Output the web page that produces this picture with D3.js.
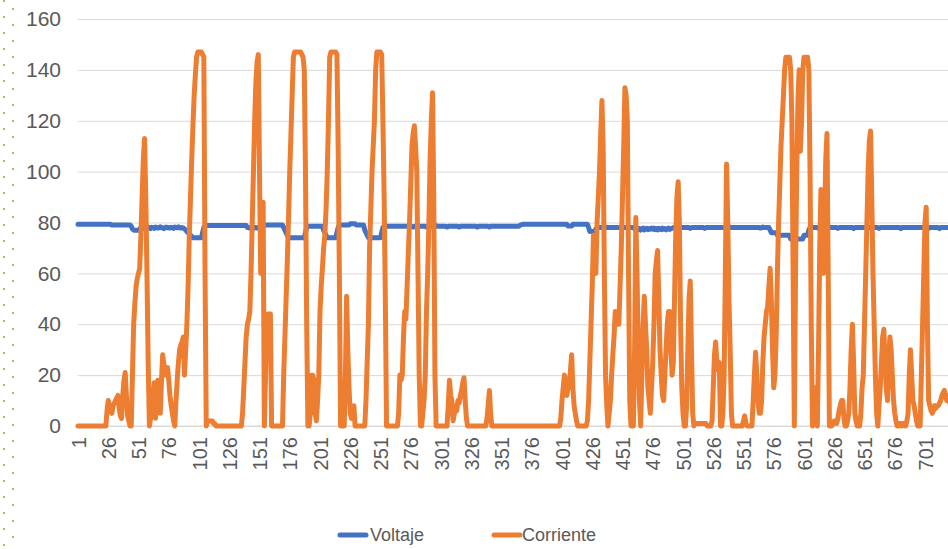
<!DOCTYPE html>
<html>
<head>
<meta charset="utf-8">
<script src="https://cdn.jsdelivr.net/npm/d3@7"></script>
<style>
  body { margin: 0; background: #fff; }
  svg { display: block; font-family: "Liberation Sans Narrow", "Arial Narrow", "Liberation Sans", sans-serif; }
</style>
</head>
<body>
<svg id="chart"></svg>
<script>
// tick labels
const yTicks = [0, 20, 40, 60, 80, 100, 120, 140, 160];
const xTickLabels = ["1", "26", "51", "76", "101", "126", "151", "176", "201", "226", "251", "276", "301",
  "326", "351", "376", "401", "426", "451", "476", "501", "526", "551", "576", "601", "626", "651", "676", "701"];
const seriesNames = ["Voltaje", "Corriente"];

// Voltaje, one value per category (1..722)
const voltaje = [
  79.3,79.3,79.3,79.3,79.3,79.3,79.3,79.3,79.3,79.3,79.3,79.3,79.3,79.3,79.3,79.3,79.3,79.3,79.3,79.3,79.3,79.3,79.3,79.3,79.3,
  79.3,79.3,79.3,79,79,79,79,79,79,79,79,79,79,79,79,79,79,79,79,78.5,77.5,77,77,77,77,
  77,77.5,78,77.8,78.2,77.6,78,78.3,77.9,78,77.6,78.1,78,77.7,78.2,78,77.8,78,78.3,77.9,78,77.6,78,78.2,77.9,
  78,77.8,78.1,78,77.7,78.2,78,77.9,78.3,78,77.8,78,77.9,77.5,77,76.5,76,75.5,75,74.5,74,74,74,74,74,
  74,74,74,76,78,78.8,78.8,78.8,78.8,78.8,78.8,78.8,78.8,78.8,78.8,78.8,78.8,78.8,78.8,78.8,78.8,78.8,78.8,78.8,78.8,
  78.8,78.8,78.8,78.8,78.8,78.8,78.8,78.8,78.8,78.8,78.8,78.8,78.8,78.8,78.8,78,78,77.8,78,77.6,77.7,78,78,77.8,78,
  78,78.2,78,78.5,78.8,79,79,79,79,79,79,79,79,79,79,79,79,79,79,79,78,77,76,75,74,
  74,74,74,74,74,74,74,74,74,74,74,74,74,76,78,78.5,78.5,78.5,78.5,78.5,78.5,78.5,78.5,78.5,78.5,
  78.5,78.5,78.5,77,76,75,74,74,74,74,74,74,74,74,76,78,79,79,79,79,79,79,79,79,79,
  79.5,79.5,79.5,79.5,79.5,79,79,79,79,79,79,79,77,76,75,74,74,74,74,74,74,74,74,74,74,
  74,76,78,78.5,78.5,78.5,78.5,78.5,78.5,78.5,78.5,78.5,78.5,78.5,78.5,78.5,78.5,78.5,78.5,78.5,78.5,78.5,78.5,78.5,78.5,
  78.5,78.5,78.2,78.5,78.5,78.5,78.8,78.5,78.5,78.5,78.5,78.5,78.5,78.2,78.5,78.5,78.5,78.5,78.5,78.5,78.5,78.8,78.5,78.5,78.5,
  78.5,78.5,78.5,78.5,78.5,78.2,78.5,78.5,78.5,78.5,78.5,78.5,78.5,78.5,78.5,78.2,78.5,78.5,78.5,78.5,78.5,78.5,78.5,78.5,78.5,
  78.5,78.5,78.5,78.5,78.5,78.2,78.5,78.5,78.5,78.5,78.5,78.5,78.5,78.5,78.5,78.2,78.5,78.5,78.5,78.5,78.5,78.5,78.5,78.5,78.5,
  78.5,78.5,78.5,78.5,78.5,78.5,78.5,78.5,78.5,78.5,78.5,78.5,78.5,78.5,78.5,78.8,79,79.2,79.3,79.3,79.3,79.3,79.3,79.3,79.3,
  79.3,79.3,79.3,79.3,79.3,79.3,79.3,79.3,79.3,79.3,79.3,79.3,79.3,79.3,79.3,79.3,79.3,79.3,79.3,79.3,79.3,79.3,79.3,79.3,79.3,
  79.3,79.3,79.3,79.3,79.3,78.6,78.6,78.6,78.6,79.3,79.3,79.3,79.3,79.3,79.3,79.3,79.3,79.3,79.3,79.3,79.3,79.3,78,76.5,76.5,
  76.5,76.5,76.5,77.5,78,78,78,78,78,78,78,78,78,78,78,78,78,78,78,78,78,78,78,78,78,
  78,78,78,78,78,78,78,78,78,78,77.5,77,77.8,77.2,77.6,77,77.5,77.8,77.1,77.5,77.7,77.2,77.6,77.4,77.8,
  77.4,77.8,77.2,77.6,77.1,77.7,77.5,77.2,77.8,77.4,77.6,77.1,77.5,77.8,77.3,77.6,77.7,78,78,78,78,78,78,78,78,
  78,78,78,78,78,78,77.7,78,78,78,78,78,78,78,78,78,78,78,77.7,78,78,78,78,78,78,
  78,78,78,78,78,78,78,78,78,78,78,78.2,78.3,78.3,78.2,78,78,78,78,78,78,78,78,78,78,
  78,78,78,78,78,78,78,78,78,78,78,78,78,78,77.8,78,78.2,78,78,78,78,78,77,76,76,
  76,76,76,75,75,75,75,75,75,75,75,75,75,75,73.5,73.5,73.5,73.5,73.5,73.5,73.5,73.5,73.5,73.5,73.5,
  75,75,75,75,77,78,78,78,78,78,78,78,77.7,78,78,78,78,78,78,78,78,78.2,78,78,78,
  78,78,78,77.7,78,78,78,78,78,78,78,78,78,78,78,78,77.6,78,78,78,78,78,78,78,78,
  78,78,77.6,78,78,78,78,78,78,78,78,78,77.7,78,78,78,78,78,78,78,78,78,78,78,78,
  78,78,78,78,78,77.6,78,78,78,78,78,78,78,78,78,78,78,78,78,78,78,78,78,78,78,
  78,78,78,77.7,78,78,78,78,78,78,78,78,77.6,78,78,78,78,78,78,78,78,78
];

// Corriente, one value per category (1..722)
const corriente = [
  0,0,0,0,0,0,0,0,0,0,0,0,0,0,0,0,0,0,0,0,0,0,0,0,6,
  10,8,6,5,8,9,10,11,12,7,4,3,12,18,21,12,4,2,0,0,20,40,48,55,58,
  60,62,75,90,105,113,90,60,25,0,3,8,12,17,3,10,18,10,5,18,28,24,20,22,23,
  18,12,8,5,2,0,10,18,25,30,32,33,35,20,30,40,55,75,90,105,118,130,138,145,147,
  147,147,147,146,145,60,0,2,2,2,2,2,1,1,0,0,0,0,0,0,0,0,0,0,0,
  0,0,0,0,0,0,0,0,0,0,0,5,15,25,35,40,42,45,60,80,100,120,135,143,146,
  100,60,75,88,0,20,40,44,44,44,0,0,0,0,0,0,0,0,0,0,20,35,50,65,82,
  100,115,130,145,147,147,147,147,147,147,146,145,140,100,40,0,0,5,20,20,18,5,2,10,20,
  45,55,62,70,75,85,100,120,145,147,147,147,147,147,146,110,60,0,0,0,0,20,51,30,15,
  5,3,5,8,0,0,0,0,0,0,0,0,0,10,25,40,70,85,100,110,120,140,147,147,147,
  147,146,120,90,50,0,0,0,0,0,0,0,0,0,0,5,20,18,20,35,45,42,55,68,80,
  95,110,115,118,110,100,60,20,0,0,5,10,20,45,60,80,105,120,131,90,20,0,0,0,0,
  0,0,0,0,0,0,8,18,12,10,2,5,8,6,10,9,12,14,17,19,10,3,0,0,0,
  0,0,0,0,0,0,0,0,0,0,0,0,0,3,8,14,5,0,0,0,0,0,0,0,0,
  0,0,0,0,0,0,0,0,0,0,0,0,0,0,0,0,0,0,0,0,0,0,0,0,0,
  0,0,0,0,0,0,0,0,0,0,0,0,0,0,0,0,0,0,0,0,0,0,0,0,3,
  10,15,20,18,12,15,15,22,28,15,8,5,2,0,0,0,0,0,0,0,0,2,10,25,40,
  55,75,60,60,80,90,100,115,128,110,60,20,8,0,5,10,20,28,35,45,42,40,40,55,70,
  90,110,133,130,120,60,10,0,0,0,30,82,60,30,10,0,20,40,51,40,30,15,10,5,15,
  25,40,60,65,69,50,30,20,12,10,20,30,40,45,45,30,20,25,50,75,90,96,80,40,15,
  5,0,0,8,30,50,57,30,5,0,1,1,1,1,1,1,1,1,1,1,0,0,0,0,2,
  15,28,33,25,22,25,0,0,5,20,60,103,80,50,30,5,0,0,0,0,0,0,0,0,0,
  2,4,1,0,0,0,0,0,10,20,29,20,10,5,5,10,25,35,40,45,47,55,62,50,30,
  15,20,35,60,80,95,110,120,130,140,145,145,145,145,140,120,60,0,60,100,128,140,108,120,140,
  145,145,145,145,140,100,40,0,5,15,5,0,30,70,93,80,60,80,105,115,60,0,0,0,1,
  2,2,1,3,6,8,10,10,3,0,0,2,5,15,30,40,25,5,2,0,0,0,5,15,20,
  40,60,80,100,112,116,90,60,40,20,5,0,8,15,25,35,38,25,15,10,25,35,30,20,10,
  5,2,0,0,1,1,0,1,1,0,2,5,20,30,20,10,8,5,2,0,0,0,20,40,60,
  80,86,40,10,8,6,5,6,8,7,8,8,9,10,12,13,14,12,10,12,10,8
];

const width = 948, height = 549;
const plotLeft = 78, plotRight = 948, plotTop = 19, plotBottom = 426;
const step = 1.21; // px per category
const colors = { Voltaje: "#4472C4", Corriente: "#ED7D31" };

const svg = d3.select("#chart").attr("width", width).attr("height", height);
svg.append("rect").attr("width", width).attr("height", height).attr("fill", "#fff");

// dotted green edge at the left
[[4, 0], [13, 8]].forEach(([dx, off]) => {
  svg.append("line")
    .attr("x1", dx).attr("x2", dx).attr("y1", 0).attr("y2", height)
    .attr("stroke", "#9BCB5A").attr("stroke-width", 2)
    .attr("stroke-dasharray", "2,14").attr("stroke-dashoffset", -off);
});

const N = corriente.length;
const x = d3.scaleLinear().domain([1, N]).range([plotLeft, plotLeft + (N - 1) * step]);
const y = d3.scaleLinear().domain([0, 160]).range([plotBottom, plotTop]);

// gridlines
svg.append("g")
  .attr("transform", "translate(" + plotLeft + ",0)")
  .call(d3.axisLeft(y).tickValues(yTicks).tickSize(-(plotRight - plotLeft)).tickFormat(""))
  .call(g => g.select(".domain").remove())
  .selectAll("line").attr("stroke", "#d9d9d9").attr("stroke-width", 1);

// y labels
svg.append("g")
  .attr("transform", "translate(61,0)")
  .call(d3.axisLeft(y).tickValues(yTicks).tickSize(0).tickPadding(0))
  .call(g => g.select(".domain").remove())
  .selectAll("text")
  .attr("fill", "#595959").style("font-size", "21px").style("font-family", "inherit");

// x axis
const xAxis = svg.append("g")
  .attr("transform", "translate(0," + plotBottom + ")")
  .call(d3.axisBottom(x).tickValues(xTickLabels.map(Number)).tickSize(0).tickFormat(d3.format("d")));
xAxis.select(".domain").attr("stroke", "#d9d9d9").attr("d", "M" + plotLeft + ",0H" + plotRight);
xAxis.selectAll("text")
  .attr("fill", "#595959").style("font-size", "20px").style("font-family", "inherit")
  .attr("transform", "rotate(-90)")
  .attr("x", -11).attr("y", 0).attr("dy", "0.35em")
  .style("text-anchor", "end");

// lines
const line = d3.line().x((d, i) => x(i + 1)).y(d => y(d));
const plot = svg.append("g");
[["Voltaje", voltaje], ["Corriente", corriente]].forEach(([name, vals]) => {
  plot.append("path")
    .datum(vals)
    .attr("fill", "none")
    .attr("stroke", colors[name])
    .attr("stroke-width", 5)
    .attr("stroke-linejoin", "round")
    .attr("stroke-linecap", "round")
    .attr("d", line);
});

// legend
const legendPos = [[338, 370], [492, 522]];
const legend = svg.append("g").attr("transform", "translate(0,535)");
seriesNames.forEach((name, i) => {
  const [lx, tx] = legendPos[i];
  legend.append("line")
    .attr("x1", lx + 2).attr("x2", lx + 28).attr("y1", 0).attr("y2", 0)
    .attr("stroke", colors[name]).attr("stroke-width", 5).attr("stroke-linecap", "round");
  legend.append("text")
    .attr("x", tx).attr("y", 0).attr("dy", "0.35em")
    .attr("fill", "#595959").style("font-size", "18px")
    .text(name);
});
</script>
</body>
</html>
